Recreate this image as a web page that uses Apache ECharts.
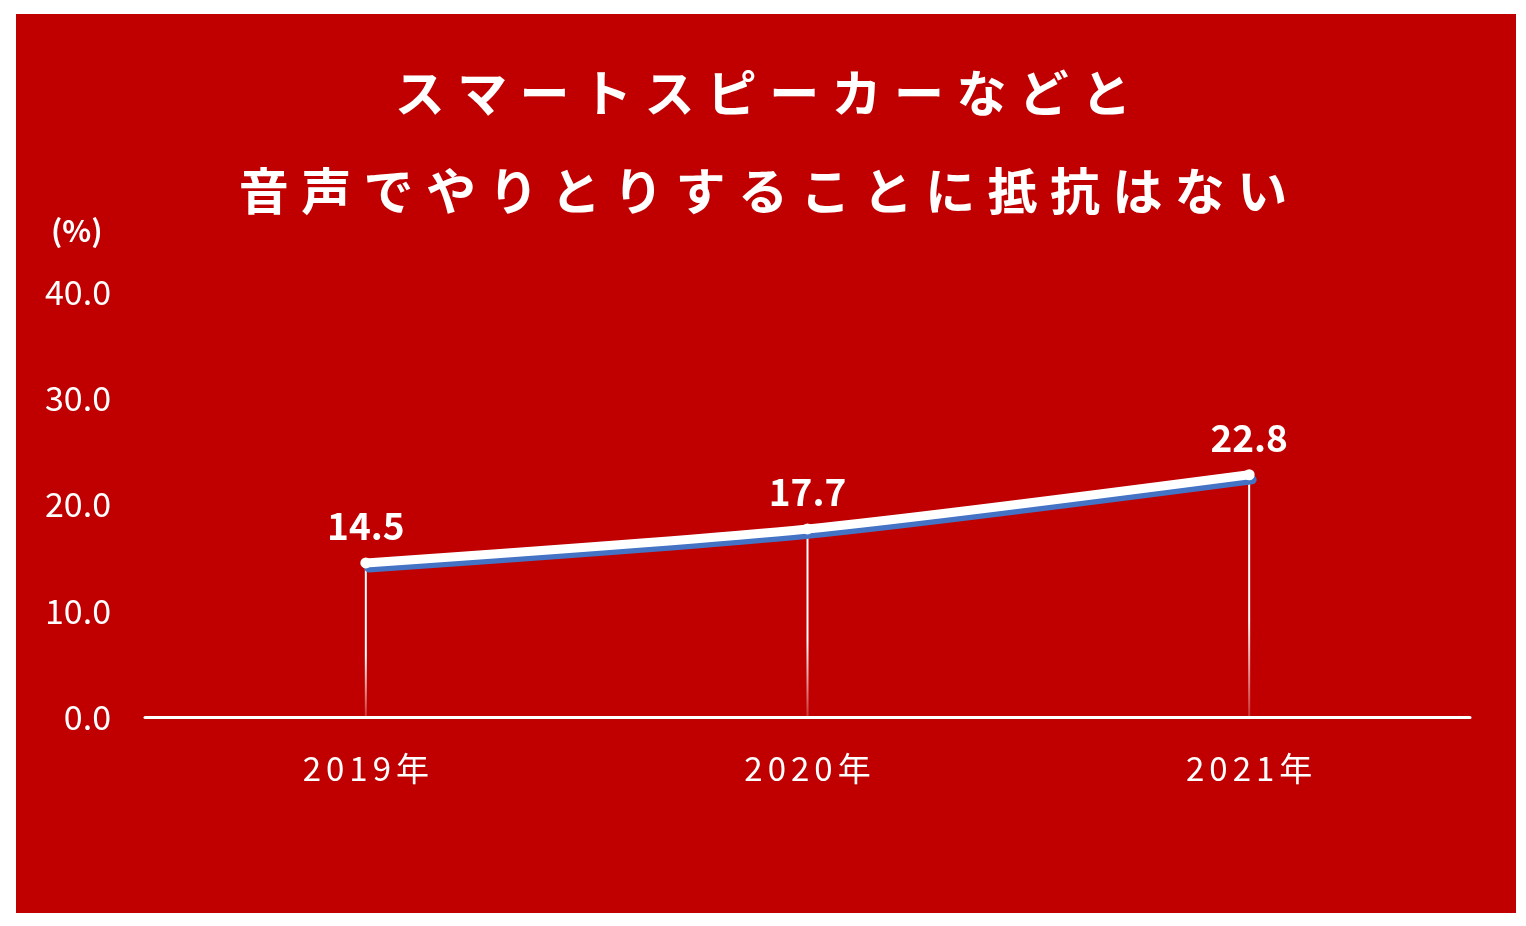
<!DOCTYPE html>
<html>
<head>
<meta charset="utf-8">
<script src="https://cdn.jsdelivr.net/npm/echarts@6/dist/echarts.min.js"></script>
<style>html,body{margin:0;padding:0;background:#fff}#c{width:1526px;height:926px}</style>
</head>
<body>
<div id="c"></div>
<script>
const titleLines = ['スマートスピーカーなどと', '音声でやりとりすることに抵抗はない'];
const categories = ['2019年', '2020年', '2021年'];
const values = [14.5, 17.7, 22.8];
const yTicks = [0, 10, 20, 30, 40];
const unitLabel = '(%)';

const FONT = '"Noto Sans CJK JP", "Noto Sans", sans-serif';
const spaced = (s, tag) => s.split('').map(ch => '{' + tag + '|' + ch + '}').join('');

const chart = echarts.init(document.getElementById('c'));
chart.setOption({
  backgroundColor: '#ffffff',
  animation: false,
  graphic: [
    { type: 'rect', z: -10, shape: { x: 16, y: 14, width: 1500, height: 899 }, style: { fill: '#c00000' } },
    { type: 'text', left: 51, top: 216, style: { text: unitLabel, fill: '#fff', font: 'bold 30px ' + FONT } }
  ],
  title: {
    left: 'center',
    top: 39,
    text: titleLines.map(l => spaced(l, 't')).join('\n'),
    textStyle: {
      rich: {
        t: { color: '#fff', fontSize: 50, fontWeight: 'bold', fontFamily: FONT, padding: [0, 6.2], lineHeight: 98 }
      }
    }
  },
  grid: { left: 145, right: 56, top: 292, bottom: 209 },
  xAxis: {
    type: 'category',
    data: categories,
    boundaryGap: true,
    axisLine: { lineStyle: { color: '#fff', width: 3 } },
    axisTick: { show: false },
    axisLabel: {
      margin: 35,
      formatter: v => spaced(v, 'x'),
      rich: { x: { color: '#fff', fontSize: 33, fontFamily: FONT, padding: [0, 2.5] } }
    }
  },
  yAxis: {
    type: 'value',
    min: yTicks[0],
    max: yTicks[yTicks.length - 1],
    interval: yTicks[1] - yTicks[0],
    axisLine: { show: false },
    axisTick: { show: false },
    splitLine: { show: false },
    axisLabel: {
      margin: 34,
      color: '#fff',
      fontSize: 34,
      fontFamily: FONT,
      formatter: v => v.toFixed(1)
    }
  },
  series: [
    {
      type: 'bar',
      data: values,
      barWidth: 2,
      silent: true,
      z: 1,
      itemStyle: {
        color: new echarts.graphic.LinearGradient(0, 0, 0, 1, [
          { offset: 0, color: 'rgba(255,255,255,1)' },
          { offset: 0.6, color: 'rgba(255,255,255,1)' },
          { offset: 1, color: 'rgba(255,255,255,0.2)' }
        ])
      }
    },
    {
      type: 'line',
      data: values,
      smooth: 0.25,
      z: 3,
      symbol: 'circle',
      symbolSize: 11,
      itemStyle: { color: '#fff' },
      lineStyle: {
        color: '#fff',
        width: 9,
        cap: 'round',
        shadowColor: '#4472c4',
        shadowBlur: 0,
        shadowOffsetX: 3,
        shadowOffsetY: 5
      },
      label: {
        show: true,
        position: 'top',
        distance: 13,
        color: '#fff',
        fontSize: 37,
        fontWeight: 'bold',
        fontFamily: FONT,
        formatter: p => p.value.toFixed(1)
      }
    }
  ]
});
</script>
</body>
</html>
